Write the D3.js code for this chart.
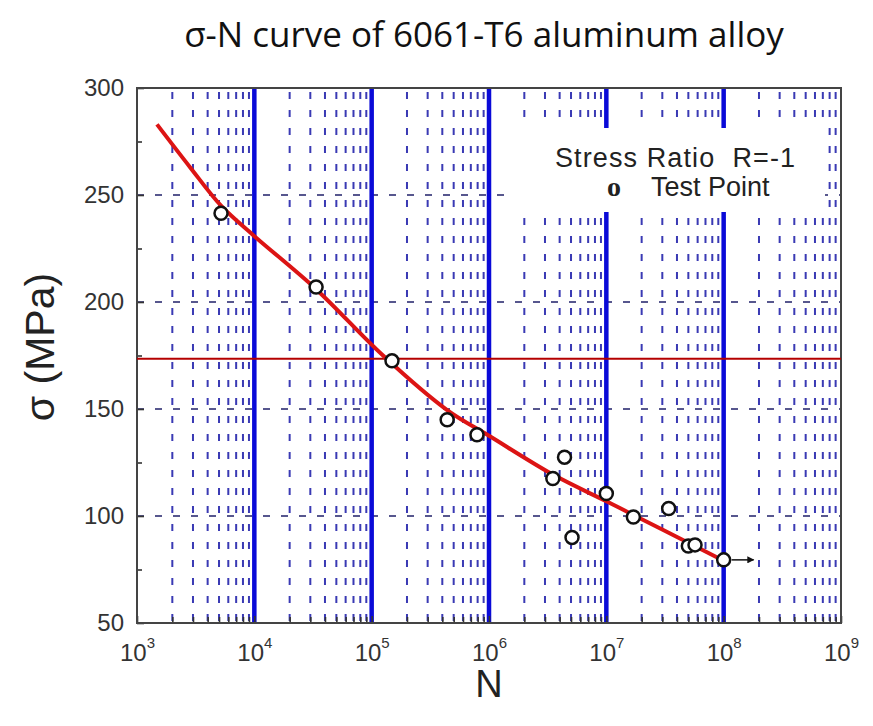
<!DOCTYPE html>
<html>
<head>
<meta charset="utf-8">
<script src="https://cdn.jsdelivr.net/npm/d3@7"></script>
<style>
  body { margin: 0; background: #fff; }
  svg { display: block; }
</style>
</head>
<body>
<div id="chart"></div>
<script>
// test points: cycles N, stress in MPa
const testN = [5.2e3, 3.36e4, 1.49e5, 4.4e5, 7.9e5, 3.5e6, 4.4e6, 5.1e6, 1.0e7, 1.7e7, 3.4e7, 5.0e7, 5.7e7, 1.0e8]
const testStress = [241.5, 207, 172.5, 145, 138, 117.5, 127.5, 90, 110.5, 99.5, 103.5, 86, 86.5, 79.5]

// fitted curve
const curveN = [1.48e3, 2.83e3, 5.2e3, 9.9e3, 3.36e4, 1.25e5, 4.4e5, 1.0e6, 3.6e6, 9.9e6, 1.7e7, 5.0e7, 1.05e8]
const curveStress = [283, 263, 245, 231, 206, 175, 149.5, 137.5, 119, 107, 100.5, 87.5, 78.5]

// run-out arrow and the red reference level
const runoutN = [1.0e8, 1.8e8]
const runoutStress = 79.5
const refStress = 173.5

const yTicks = [50, 100, 150, 200, 250, 300]
const yMinor = [75, 125, 175, 225, 275]
const xDecades = [1e3, 1e4, 1e5, 1e6, 1e7, 1e8, 1e9]
const thickLines = [1e4, 1e5, 1e6, 1e7, 1e8]
const gridStress = [100, 150, 200, 250]

const W = 873
const H = 726
const plotLeft = 137
const plotRight = 841
const plotTop = 88
const plotBottom = 623

const svg = d3.select('#chart').append('svg')
  .attr('width', W)
  .attr('height', H)

const x = d3.scaleLog().domain([1e3, 1e9]).range([plotLeft, plotRight])
const y = d3.scaleLinear().domain([50, 300]).range([plotBottom, plotTop])

// minor decade positions 2..9 x 10^k
const minorN = []
xDecades.slice(0, -1).forEach(d => {
  for (let k = 2; k <= 9; k++) minorN.push(d * k)
})

svg.append('text')
  .attr('x', 484)
  .attr('y', 47)
  .attr('text-anchor', 'middle')
  .style('font-family', '"Open Sans", Lato, sans-serif')
  .style('font-size', '35px')
  .style('fill', '#111')
  .text('σ-N curve of 6061-T6 aluminum alloy')

const plot = svg.append('g')

// dashed vertical grid on the minor decades
plot.selectAll('.vminor')
  .data(minorN)
  .enter()
  .append('line')
  .attr('x1', d => x(d))
  .attr('x2', d => x(d))
  .attr('y1', plotTop + 4)
  .attr('y2', plotBottom)
  .attr('stroke', '#3a3ab4')
  .attr('stroke-width', 2)
  .attr('stroke-dasharray', '7 11')

// dashed horizontal grid
plot.selectAll('.hgrid')
  .data(gridStress)
  .enter()
  .append('line')
  .attr('x1', plotLeft)
  .attr('x2', plotRight)
  .attr('y1', d => y(d))
  .attr('y2', d => y(d))
  .attr('stroke', '#20206a')
  .attr('stroke-width', 1.6)
  .attr('stroke-dasharray', '7 11')

// thick decade lines
plot.selectAll('.vmajor')
  .data(thickLines)
  .enter()
  .append('line')
  .attr('x1', d => x(d))
  .attr('x2', d => x(d))
  .attr('y1', plotTop)
  .attr('y2', plotBottom)
  .attr('stroke', '#0a0ad8')
  .attr('stroke-width', 4.5)

// legend box sits over the grid
svg.append('rect')
  .attr('x', 512)
  .attr('y', 128)
  .attr('width', 313)
  .attr('height', 84)
  .attr('fill', '#fff')

svg.append('text')
  .attr('x', 555)
  .attr('y', 167)
  .style('font-family', '"Liberation Sans", Arial, sans-serif')
  .style('font-size', '27px')
  .style('letter-spacing', '1.1px')
  .style('fill', '#222')
  .style('white-space', 'pre')
  .text('Stress Ratio  R=-1')

svg.append('text')
  .attr('x', 607)
  .attr('y', 196)
  .style('font-family', '"Liberation Serif", "Times New Roman", serif')
  .style('font-size', '28px')
  .style('font-weight', 'bold')
  .style('fill', '#222')
  .text('o')

svg.append('text')
  .attr('x', 651)
  .attr('y', 196)
  .style('font-family', '"Liberation Sans", Arial, sans-serif')
  .style('font-size', '27px')
  .style('fill', '#222')
  .text('Test Point')

// axes
const yAxis = svg.append('g')
  .attr('transform', `translate(${plotLeft},0)`)
  .call(d3.axisLeft(y).tickValues(yTicks).tickSize(-7).tickPadding(13))
yAxis.select('.domain').remove()

svg.append('g')
  .attr('transform', `translate(${plotLeft},0)`)
  .call(d3.axisLeft(y).tickValues(yMinor).tickSize(-5).tickFormat(''))
  .select('.domain').remove()

const xAxis = svg.append('g')
  .attr('transform', `translate(0,${plotBottom})`)
  .call(d3.axisBottom(x).tickValues(xDecades).tickSize(-7).tickPadding(12).tickFormat(''))
xAxis.select('.domain').remove()

svg.append('g')
  .attr('transform', `translate(0,${plotBottom})`)
  .call(d3.axisBottom(x).tickValues(minorN).tickSize(-6).tickFormat(''))
  .select('.domain').remove()

svg.selectAll('.tick line').attr('stroke', '#333').attr('stroke-width', 1.6)

yAxis.selectAll('.tick text')
  .style('font-family', '"Liberation Sans", Arial, sans-serif')
  .style('font-size', '24px')
  .style('fill', '#333')

xAxis.selectAll('.tick').each(function (d) {
  const t = d3.select(this).append('text')
    .attr('y', 38)
    .attr('text-anchor', 'middle')
    .style('font-family', '"Liberation Sans", Arial, sans-serif')
    .style('fill', '#333')
  t.append('tspan').style('font-size', '24px').text('10')
  t.append('tspan')
    .attr('dy', -13)
    .style('font-size', '15px')
    .text(Math.round(Math.log10(d)))
})

// frame
svg.append('rect')
  .attr('x', plotLeft)
  .attr('y', plotTop)
  .attr('width', plotRight - plotLeft)
  .attr('height', plotBottom - plotTop)
  .attr('fill', 'none')
  .attr('stroke', '#444')
  .attr('stroke-width', 2)

// reference level
svg.append('line')
  .attr('x1', plotLeft)
  .attr('x2', plotRight)
  .attr('y1', y(refStress))
  .attr('y2', y(refStress))
  .attr('stroke', '#b40000')
  .attr('stroke-width', 2)

// fitted curve
const curveData = curveN.map((n, i) => [n, curveStress[i]])
svg.append('path')
  .datum(curveData)
  .attr('fill', 'none')
  .attr('stroke', '#dc1414')
  .attr('stroke-width', 4)
  .attr('d', d3.line()
    .x(d => x(d[0]))
    .y(d => y(d[1]))
    .curve(d3.curveCatmullRom.alpha(0.5)))

// run-out arrow
svg.append('defs').append('marker')
  .attr('id', 'arrow')
  .attr('viewBox', '0 0 10 10')
  .attr('refX', 9)
  .attr('refY', 5)
  .attr('markerWidth', 10)
  .attr('markerHeight', 7)
  .attr('markerUnits', 'userSpaceOnUse')
  .attr('orient', 'auto')
  .append('path')
  .attr('d', 'M0,0 L10,5 L0,10 Z')
  .attr('fill', '#111')

svg.append('line')
  .attr('x1', x(runoutN[0]) + 8)
  .attr('x2', x(runoutN[1]))
  .attr('y1', y(runoutStress))
  .attr('y2', y(runoutStress))
  .attr('stroke', '#111')
  .attr('stroke-width', 1.5)
  .attr('marker-end', 'url(#arrow)')

// test points
const pts = testN.map((n, i) => ({ n, s: testStress[i] }))
svg.selectAll('.pt')
  .data(pts)
  .enter()
  .append('circle')
  .attr('cx', d => x(d.n))
  .attr('cy', d => y(d.s))
  .attr('r', 6.5)
  .attr('fill', '#fff')
  .attr('stroke', '#111')
  .attr('stroke-width', 2.5)

// axis titles
svg.append('text')
  .attr('transform', 'translate(54,347) rotate(-90)')
  .attr('text-anchor', 'middle')
  .style('font-family', '"Liberation Sans", Arial, sans-serif')
  .style('font-size', '41px')
  .style('fill', '#222')
  .text('σ (MPa)')

svg.append('text')
  .attr('x', 489)
  .attr('y', 697)
  .attr('text-anchor', 'middle')
  .style('font-family', '"Liberation Sans", Arial, sans-serif')
  .style('font-size', '38px')
  .style('fill', '#222')
  .text('N')
</script>
</body>
</html>
